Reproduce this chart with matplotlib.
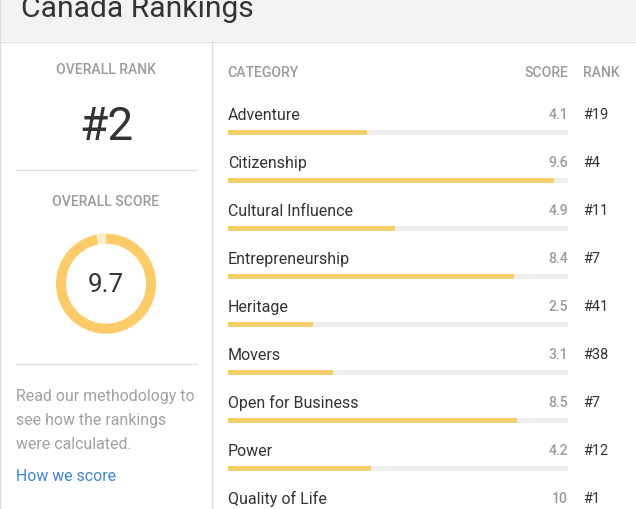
import matplotlib
matplotlib.use("Agg")
import matplotlib.pyplot as plt
from matplotlib.patches import Rectangle

plt.rcParams['font.family'] = ['Roboto', 'DejaVu Sans']

categories = ["Adventure", "Citizenship", "Cultural Influence", "Entrepreneurship",
              "Heritage", "Movers", "Open for Business", "Power", "Quality of Life"]
scores = [4.1, 9.6, 4.9, 8.4, 2.5, 3.1, 8.5, 4.2, 10]
score_labels = ["4.1", "9.6", "4.9", "8.4", "2.5", "3.1", "8.5", "4.2", "10"]
ranks = ["#19", "#4", "#11", "#7", "#41", "#38", "#7", "#12", "#1"]
overall_score = 9.7
overall_rank = "#2"
score_max = 10

W, H = 636, 510
fig = plt.figure(figsize=(W / 100, H / 100), dpi=100, facecolor="white")

def px(pixels):
    return pixels * 72 / 100

# page frame, in pixel coordinates
bg = fig.add_axes([0, 0, 1, 1])
bg.set_xlim(0, W)
bg.set_ylim(H, 0)
bg.axis("off")
bg.add_patch(Rectangle((0, 0), W, 42, fc="#f3f3f3", ec="none"))
LINE = "#dcdcdc"
bg.plot([0, W], [42.5, 42.5], color=LINE, lw=0.9)
bg.plot([0, 0], [0, H], color=LINE, lw=0.9)
bg.plot([212, 212], [42, H], color=LINE, lw=0.9)
bg.plot([16, 196.5], [170.5, 170.5], color=LINE, lw=0.9)
bg.plot([16, 196.5], [364.5, 364.5], color=LINE, lw=0.9)

DARK, GREY = "#333333", "#9b9b9b"
bg.text(21, 17, "Canada Rankings", fontsize=px(30), color=DARK, va="baseline")
bg.text(106, 74, "OVERALL RANK", fontsize=px(14), color=GREY, ha="center", va="baseline", fontweight="medium")
bg.text(106.5, 140, overall_rank, fontsize=px(46), color=DARK, ha="center", va="baseline")
bg.text(106, 206, "OVERALL SCORE", fontsize=px(14), color=GREY, ha="center", va="baseline", fontweight="medium")
for y, line in zip([401, 425, 449], ["Read our methodology to", "see how the rankings", "were calculated."]):
    bg.text(15.5, y, line, fontsize=px(15.9), color="#a0a0a0", va="baseline")
bg.text(15.5, 481, "How we score", fontsize=px(15.9), color="#3b86e0", va="baseline")
bg.text(227.5, 77, "CATEGORY", fontsize=px(14), color=GREY, va="baseline", fontweight="medium")
bg.text(568, 77, "SCORE", fontsize=px(14), color=GREY, ha="right", va="baseline", fontweight="medium")
bg.text(583.5, 77, "RANK", fontsize=px(14), color=GREY, va="baseline", fontweight="medium")

# bars: one row every 48 px, first bar centred at y = 133.5 px
top, rows_visible = 109.5, (H - 109.5) / 48
bars = fig.add_axes([228 / W, 0, 340 / W, (H - top) / H])
bars.set_xlim(0, score_max)
bars.set_ylim(rows_visible - 0.5, -0.5)
bars.axis("off")
y_pos = list(range(len(categories)))
bars.barh(y_pos, [score_max] * len(scores), height=5 / 48, color="#eeeeee", lw=0)
bars.barh(y_pos, scores, height=5 / 48, color="#f2cf6b", lw=0)

for i, (c, s, r) in enumerate(zip(categories, score_labels, ranks)):
    bars.annotate(c, (0, i), xytext=(0, 13.5 * 0.72), textcoords="offset points",
                  fontsize=px(16), color=DARK, va="baseline", annotation_clip=False)
    bars.annotate(s, (score_max, i), xytext=(0, 14.5 * 0.72), textcoords="offset points",
                  fontsize=px(14), color=GREY, ha="right", va="baseline", annotation_clip=False, fontweight="medium")
    bars.annotate(r, (score_max, i), xytext=(15.5 * 0.72, 14.5 * 0.72), textcoords="offset points",
                  fontsize=px(14.5), color=DARK, va="baseline", annotation_clip=False)

# donut
d = 104
donut = fig.add_axes([(106 - d / 2) / W, 1 - (284.7 + d / 2) / H, d / W, d / H])
donut.pie([overall_score, score_max - overall_score], colors=["#fdcb67", "#faeccb"], startangle=90,
          counterclock=False, radius=1, wedgeprops=dict(width=0.2, lw=0))
donut.set_xlim(-1.04, 1.04)
donut.set_ylim(-1.04, 1.04)
donut.text(0, 0.0, str(overall_score), fontsize=px(26), color=DARK, ha="center", va="center")

fig.savefig("out.png", dpi=100)
